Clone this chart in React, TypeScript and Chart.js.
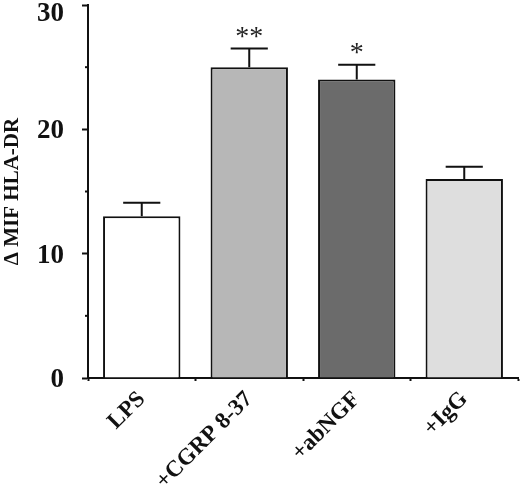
import { useEffect, useRef } from "react"
import { Chart, registerables, type Plugin } from "chart.js"

Chart.register(...registerables)

const categories = ["LPS", "+CGRP 8-37", "+abNGF", "+IgG"]
const means = [13, 25, 24, 16]
const errors = [1.1, 1.5, 1.2, 1.0]
const marks = ["", "**", "*", ""]
const yTickValues = [0, 10, 20, 30]
const barColors = ["#ffffff", "#b7b7b7", "#6b6b6b", "#dedede"]

const SERIF = '"Liberation Serif", "Times New Roman", serif'

// error bars, significance stars, y labels and minor ticks
const extras: Plugin<"bar"> = {
  id: "extras",
  afterDatasetsDraw(chart) {
    const { ctx } = chart
    const y = chart.scales.y
    const meta = chart.getDatasetMeta(0)
    ctx.save()
    meta.data.forEach((bar: any, i: number) => {
      const top = y.getPixelForValue(means[i] + errors[i])
      const half = bar.width * 0.24
      ctx.strokeStyle = "#111"
      ctx.lineWidth = 2
      ctx.beginPath()
      ctx.moveTo(bar.x, bar.y)
      ctx.lineTo(bar.x, top)
      ctx.moveTo(bar.x - half, top)
      ctx.lineTo(bar.x + half, top)
      ctx.stroke()
      if (marks[i]) {
        ctx.fillStyle = "#222"
        ctx.font = `28px ${SERIF}`
        ctx.textAlign = "center"
        ctx.textBaseline = "middle"
        ctx.fillText(marks[i], bar.x, top - 11)
      }
    })
    ctx.restore()
  },
  afterDraw(chart) {
    const { ctx } = chart
    const y = chart.scales.y
    ctx.save()
    ctx.strokeStyle = "#111"
    ctx.lineWidth = 2
    for (let v = 5; v < 30; v += 10) {
      const py = y.getPixelForValue(v)
      ctx.beginPath()
      ctx.moveTo(y.right - 3, py)
      ctx.lineTo(y.right, py)
      ctx.stroke()
    }
    ctx.fillStyle = "#111"
    ctx.font = `bold 27px ${SERIF}`
    ctx.textAlign = "right"
    ctx.textBaseline = "middle"
    yTickValues.forEach((v) => {
      const py = Math.max(y.getPixelForValue(v) + 2, 14)
      ctx.fillText(String(v), y.right - 24, py)
    })
    ctx.restore()
  },
}

export default function App() {
  const canvasRef = useRef<HTMLCanvasElement>(null)

  useEffect(() => {
    if (!canvasRef.current) return
    const chart = new Chart(canvasRef.current, {
      type: "bar",
      data: {
        labels: categories,
        datasets: [
          {
            data: means,
            backgroundColor: barColors,
            borderColor: "#111",
            borderWidth: 2,
            borderSkipped: "bottom",
            barPercentage: 0.72,
            categoryPercentage: 1,
          },
        ],
      },
      options: {
        animation: false,
        responsive: true,
        maintainAspectRatio: false,
        layout: { padding: { top: 5, right: 2, left: 0, bottom: 0 } },
        plugins: {
          legend: { display: false },
          tooltip: { enabled: false },
        },
        scales: {
          x: {
            offset: true,
            afterFit: (s: any) => {
              s.height = 114
            },
            border: { color: "#111", width: 2 },
            grid: {
              offset: true,
              drawOnChartArea: false,
              drawTicks: true,
              tickLength: 3,
              tickColor: "#111",
              tickWidth: 2,
            },
            ticks: {
              minRotation: 45,
              maxRotation: 45,
              padding: 5,
              color: "#111",
              font: { family: SERIF, size: 23, weight: "bold" },
            },
          },
          y: {
            min: 0,
            max: 30,
            afterFit: (s: any) => {
              s.width = 88
              s.paddingTop = 0
              s.paddingBottom = 0
            },
            border: { color: "#111", width: 2 },
            grid: {
              drawOnChartArea: false,
              drawTicks: true,
              tickLength: 6,
              tickWidth: 2,
              tickColor: (c: any) =>
                c.tick && c.tick.value % 10 === 0 ? "#111" : "rgba(0,0,0,0)",
            },
            ticks: { stepSize: 5, display: false },
            title: {
              display: true,
              text: "Δ MIF HLA-DR",
              color: "#111",
              padding: { top: 0, bottom: 0 },
              font: { family: SERIF, size: 21, weight: "bold", lineHeight: 1.2 },
            },
          },
        },
      },
      plugins: [extras],
    })
    return () => chart.destroy()
  }, [])

  return (
    <div style={{ position: "absolute", left: 0, top: 0, width: 520, height: 492, background: "#fff" }}>
      <canvas ref={canvasRef} />
    </div>
  )
}
